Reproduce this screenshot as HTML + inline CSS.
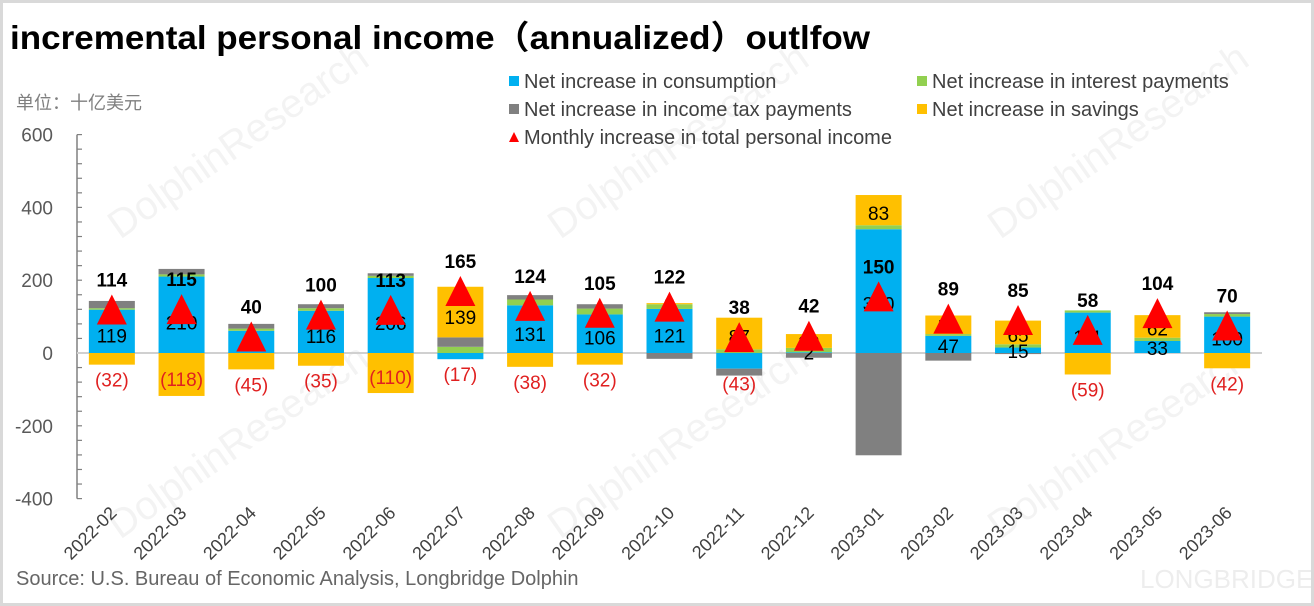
<!DOCTYPE html>
<html><head><meta charset="utf-8">
<style>
html,body{margin:0;padding:0;background:#fff;}
#wrap{position:relative;width:1314px;height:606px;overflow:hidden;box-sizing:border-box;border:3px solid #d9d9d9;font-family:"Liberation Sans","Noto Sans CJK SC",sans-serif;}
svg{position:absolute;left:-3px;top:-3px;}
</style></head>
<body>
<div id="wrap">
<svg id="chart" width="1314" height="606" xmlns="http://www.w3.org/2000/svg">
  <g fill="#000" opacity="0.05" font-family="Liberation Sans, Noto Sans CJK SC, sans-serif">
    <text x="120" y="240" font-size="40" transform="rotate(-35 120 240)">DolphinResearch</text>
    <text x="560" y="240" font-size="40" transform="rotate(-35 560 240)">DolphinResearch</text>
    <text x="1000" y="240" font-size="40" transform="rotate(-35 1000 240)">DolphinResearch</text>
    <text x="120" y="540" font-size="40" transform="rotate(-35 120 540)">DolphinResearch</text>
    <text x="560" y="540" font-size="40" transform="rotate(-35 560 540)">DolphinResearch</text>
    <text x="1000" y="540" font-size="40" transform="rotate(-35 1000 540)">DolphinResearch</text>
  </g>
  <text x="10" y="49" font-size="33" font-weight="bold" fill="#000" textLength="860" lengthAdjust="spacingAndGlyphs">incremental personal income（annualized）outlfow</text>
  <text x="16" y="109" font-size="18" fill="#7f7f7f">单位：十亿美元</text>
  <g id="legend" font-size="20" fill="#404040"></g>
  <g id="axes"></g>
  <g id="bars"></g>
  <g id="labels"></g>
  <g id="markers"></g>
  <text x="16" y="585" font-size="20" fill="#666">Source: U.S. Bureau of Economic Analysis, Longbridge Dolphin</text>
  <text x="1140" y="588" font-size="26" fill="#000" opacity="0.07">LONGBRIDGE</text>
</svg>
</div>
<script>
const categories = ["2022-02","2022-03","2022-04","2022-05","2022-06","2022-07","2022-08","2022-09","2022-10","2022-11","2022-12","2023-01","2023-02","2023-03","2023-04","2023-05","2023-06"];
const consumption = [119,210,61,116,206,-17,131,106,121,-43,2,340,47,15,111,33,100];
const interest = [4,6,6,7,6,17,16,16,13,10,12,11,5,9,6,9,7];
const taxes = [20,15,13,11,7,26,12,12,-16,-19,-13,-281,-21,-3,0,0,5];
const savings = [-32,-118,-45,-35,-110,139,-38,-32,3,87,38,83,51,65,-59,62,-42];
const totals = [114,115,40,100,113,165,124,105,122,38,42,150,89,85,58,104,70];
const yTicks = [600,400,200,0,-200,-400];

const NS = "http://www.w3.org/2000/svg";
const X0 = 77, X1 = 1262, Y0 = 353, PX = 0.364;
const step = (X1 - X0) / categories.length;
const barW = 46;
function xc(i){ return X0 + step * (i + 0.5); }
function y(v){ return Y0 - v * PX; }
function mk(tag, attrs, parent){
  const e = document.createElementNS(NS, tag);
  for (const k in attrs) e.setAttribute(k, attrs[k]);
  parent.appendChild(e);
  return e;
}
const axes = document.getElementById('axes');
const bars = document.getElementById('bars');
const labels = document.getElementById('labels');
const markers = document.getElementById('markers');
const legend = document.getElementById('legend');

const axisLine = mk('line', {x1:X0, y1:y(600), x2:X0, y2:y(-400), stroke:'#808080', 'stroke-width':1.5}, axes);


for (let v = -400; v <= 600; v += 40) {
  const t = mk('line', {x1:X0, y1:y(v), x2:X0+5, y2:y(v), stroke:'#808080', 'stroke-width':1.2}, axes);
  
  
}
yTicks.forEach(v => {
  const t = mk('text', {x:53, y:y(v)+7, 'text-anchor':'end', 'font-size':19, fill:'#595959'}, axes);
  t.textContent = v;
  
  
});
const zl = mk('line', {x1:X0, y1:Y0, x2:X1, y2:Y0, stroke:'#d0d0d0', 'stroke-width':2}, axes);


categories.forEach((c, i) => {
  const cx = xc(i) + 6, cy = 514;
  const t = mk('text', {x:cx, y:cy, 'text-anchor':'end', 'font-size':18, fill:'#404040', transform:`rotate(-45 ${cx} ${cy})`}, axes);
  t.textContent = c;
  
  
});

const series = [
  {vals: consumption, color: '#00b0f0', name: 'consumption'},
  {vals: interest, color: '#92d050', name: 'interest'},
  {vals: taxes, color: '#808080', name: 'tax'},
  {vals: savings, color: '#ffc000', name: 'savings'}
];
categories.forEach((c, i) => {
  let pos = 0, neg = 0;
  series.forEach(s => {
    const v = s.vals[i];
    if (v === 0) return;
    let a, b;
    if (v > 0) { a = pos; b = pos + v; pos = b; } else { a = neg; b = neg + v; neg = b; }
    const r = mk('rect', {x: xc(i) - barW/2, y: Math.min(y(a), y(b)), width: barW, height: Math.abs(y(a) - y(b)), fill: s.color}, bars);
    
    
    if (s.name === 'consumption' || s.name === 'savings') {
      let ly;
      if (v > 0) ly = y(a + v * 0.4) + 7;
      else ly = (Math.abs(v) > 80) ? y(a + v * 0.6) + 7 : y(b) + 22;
      const t = mk('text', {x: xc(i), y: ly, 'text-anchor':'middle', 'font-size':19, fill: v < 0 ? '#e02020' : '#000'}, labels);
      t.textContent = v < 0 ? '(' + Math.abs(v) + ')' : v;
      
      
    }
  });
  const ty = y(totals[i]);
  const tri = mk('polygon', {points: `${xc(i)},${ty-17} ${xc(i)-15},${ty+13} ${xc(i)+15},${ty+13}`, fill:'#ff0000'}, markers);
  
  
  const tl = mk('text', {x: xc(i), y: ty - 25, 'text-anchor':'middle', 'font-size':19, 'font-weight':'bold', fill:'#000'}, markers);
  tl.textContent = totals[i];
  
  
});

const legendItems = [
  {label:'Net increase in consumption', color:'#00b0f0', x:509, y:81, tri:false},
  {label:'Net increase in interest payments', color:'#92d050', x:917, y:81, tri:false},
  {label:'Net increase in income tax payments', color:'#808080', x:509, y:109, tri:false},
  {label:'Net increase in savings', color:'#ffc000', x:917, y:109, tri:false},
  {label:'Monthly increase in total personal income', color:'#ff0000', x:509, y:137, tri:true}
];
legendItems.forEach(it => {
  let sw;
  if (it.tri) sw = mk('polygon', {points:`${it.x+5},${it.y-5} ${it.x},${it.y+5} ${it.x+10},${it.y+5}`, fill:it.color}, legend);
  else sw = mk('rect', {x:it.x, y:it.y-5, width:10, height:10, fill:it.color}, legend);
  
  
  const t = mk('text', {x:it.x+15, y:it.y+7}, legend);
  t.textContent = it.label;
  
  
});
</script>
</body></html>
